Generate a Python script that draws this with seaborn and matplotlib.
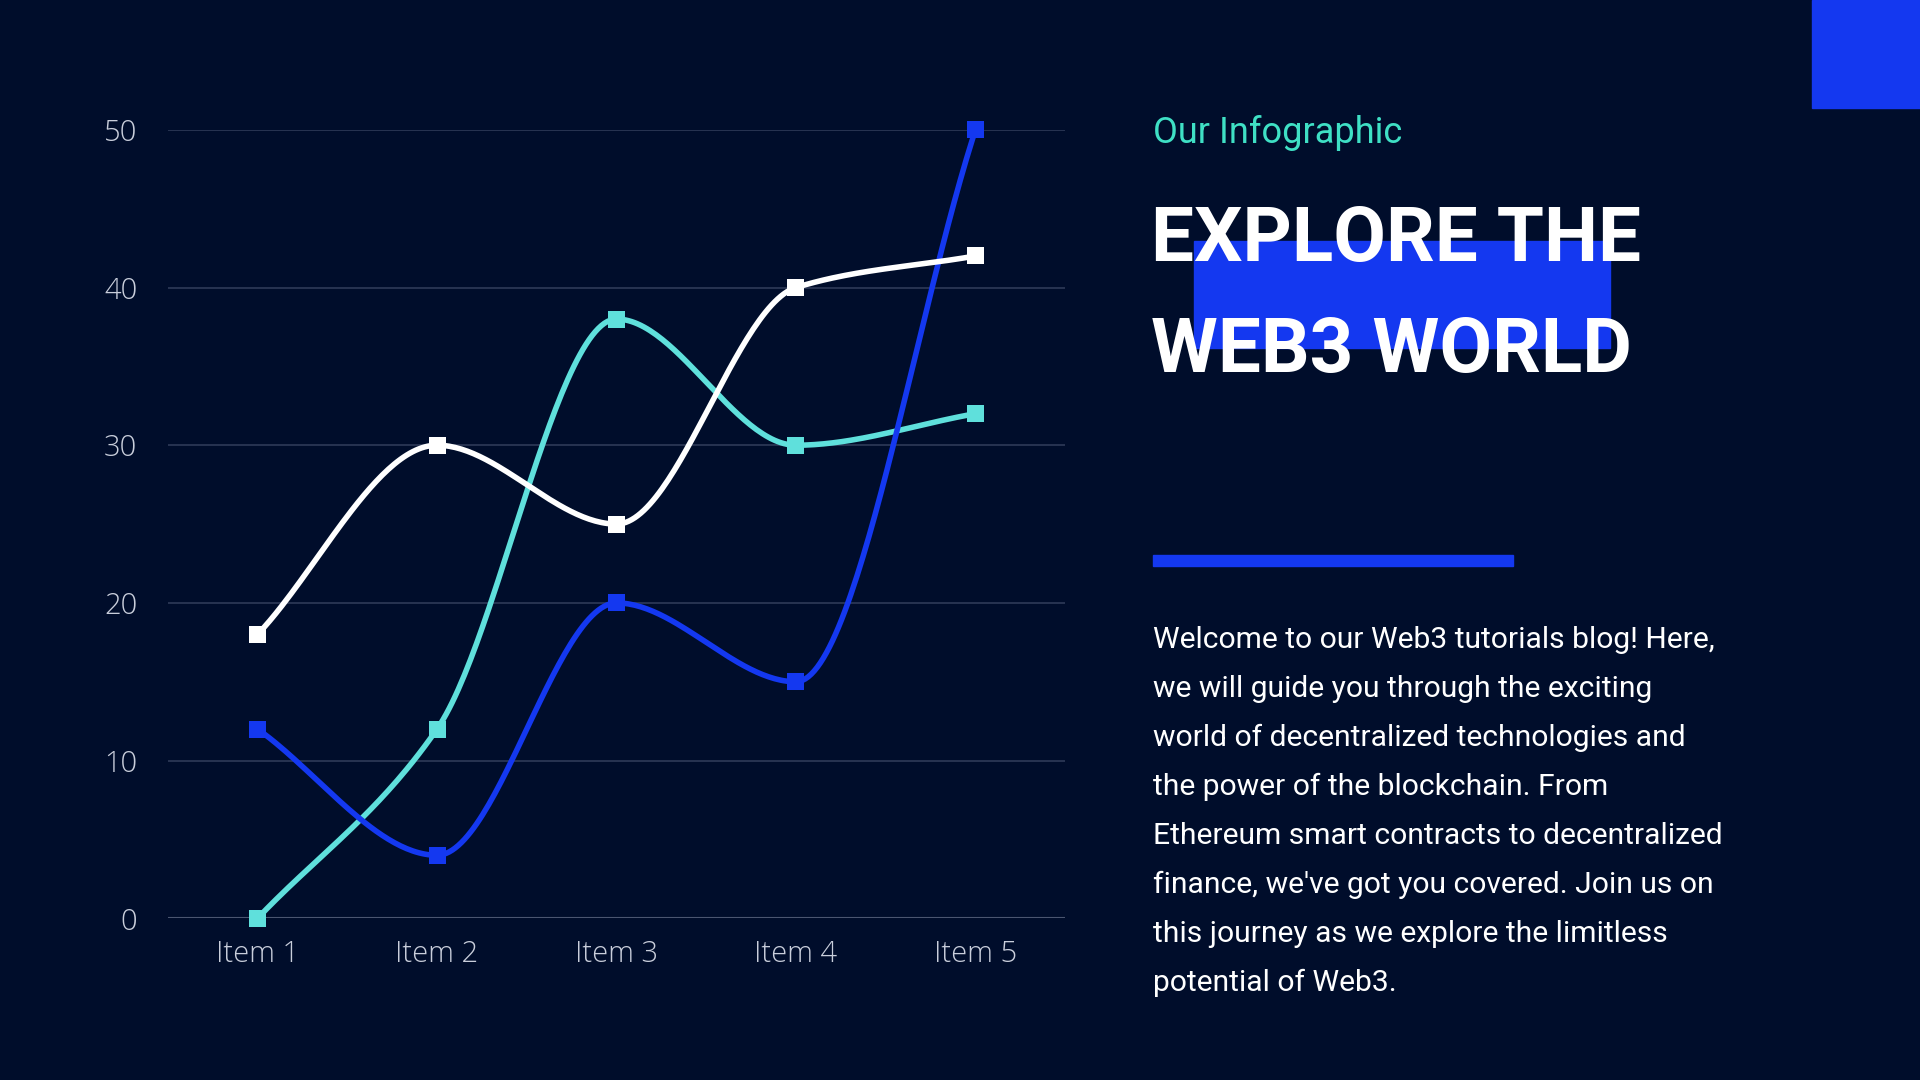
import numpy as np
import pandas as pd
import matplotlib.pyplot as plt
import matplotlib.patches as mpatches
import seaborn as sns

items = ["Item 1", "Item 2", "Item 3", "Item 4", "Item 5"]
white_vals = [18, 30, 25, 40, 42]
cyan_vals = [0, 12, 38, 30, 32]
blue_vals = [12, 4, 20, 15, 50]
y_ticks = [0, 10, 20, 30, 40, 50]

BG = "#000d2b"
BLUE = "#1438f0"
CYAN = "#5fe0dc"
WHITE = "#ffffff"


def monotone(y, n=60):
    # monotone cubic (Fritsch-Carlson) just for drawing the smooth curve
    y = np.asarray(y, float)
    x = np.arange(len(y))
    d = np.diff(y)
    m = np.zeros_like(y)
    m[0], m[-1] = d[0], d[-1]
    for i in range(1, len(y) - 1):
        if d[i - 1] * d[i] > 0:
            m[i] = 2 / (1 / d[i - 1] + 1 / d[i])
    xs, ys = [], []
    for i in range(len(y) - 1):
        t = np.linspace(0, 1, n)
        h00 = 2 * t**3 - 3 * t**2 + 1
        h10 = t**3 - 2 * t**2 + t
        h01 = -2 * t**3 + 3 * t**2
        h11 = t**3 - t**2
        xs.append(x[i] + t)
        ys.append(h00 * y[i] + h10 * m[i] + h01 * y[i + 1] + h11 * m[i + 1])
    return np.concatenate(xs), np.concatenate(ys)


sns.set_style("dark")
plt.rcParams["font.family"] = ["Roboto", "DejaVu Sans"]

fig = plt.figure(figsize=(19.2, 10.8), dpi=100, facecolor=BG)
ax = fig.add_axes([0.0874, 0.1497, 0.4674, 0.7301])
ax.set_facecolor(BG)

for vals, col in [(cyan_vals, CYAN), (blue_vals, BLUE), (white_vals, WHITE)]:
    sx, sy = monotone(vals)
    sns.lineplot(x=sx, y=sy, ax=ax, color=col, linewidth=4, sort=False)
    sns.scatterplot(x=range(len(vals)), y=vals, ax=ax, color=col, marker="s",
                    s=150, edgecolor="none", zorder=5, clip_on=False)

ax.set_xlim(-0.5, 4.5)
ax.set_ylim(0, 50)
ax.set_xticks(range(len(items)))
ax.set_xticklabels(items)
ax.set_yticks(y_ticks)
ax.grid(axis="y", color="#2e3a58", linewidth=1.2)
ax.grid(axis="x", visible=False)
for s in ax.spines.values():
    s.set_visible(False)
ax.axhline(0, color="#4a5570", linewidth=1.5)
ax.tick_params(length=0, labelsize=21, labelcolor="#c9cedb", pad=15)
for lab in ax.get_xticklabels() + ax.get_yticklabels():
    lab.set_family(["Open Sans", "DejaVu Sans"])
    lab.set_fontweight("light")
ax.tick_params(axis="y", pad=22)

# decorations (figure fraction coords, y from top)
def fy(py):
    return 1 - py / 882


def fx(px):
    return px / 1568


fig.patches.append(mpatches.Rectangle((fx(1480), fy(88)), fx(88), 88 / 882,
                                      transform=fig.transFigure, color=BLUE))
fig.patches.append(mpatches.Rectangle((fx(975), fy(284)), fx(340), 87 / 882,
                                      transform=fig.transFigure, color=BLUE))
fig.patches.append(mpatches.Rectangle((fx(942), fy(462)), fx(294), 9 / 882,
                                      transform=fig.transFigure, color=BLUE))

fig.text(fx(942), fy(109), "Our Infographic", color="#3fe0c5", fontsize=26,
         va="center", ha="left")
fig.text(fx(940), fy(196), "EXPLORE THE", color=WHITE, fontsize=55,
         fontweight="bold", va="center", ha="left")
fig.text(fx(940), fy(287), "WEB3 WORLD", color=WHITE, fontsize=55,
         fontweight="bold", va="center", ha="left")

para = ["Welcome to our Web3 tutorials blog! Here,",
        "we will guide you through the exciting",
        "world of decentralized technologies and",
        "the power of the blockchain. From",
        "Ethereum smart contracts to decentralized",
        "finance, we've got you covered. Join us on",
        "this journey as we explore the limitless",
        "potential of Web3."]
for i, line in enumerate(para):
    fig.text(fx(942), fy(523 + 40 * i), line, color=WHITE, fontsize=21.6,
             va="center", ha="left")

fig.savefig("out.png", dpi=100, facecolor=BG)
